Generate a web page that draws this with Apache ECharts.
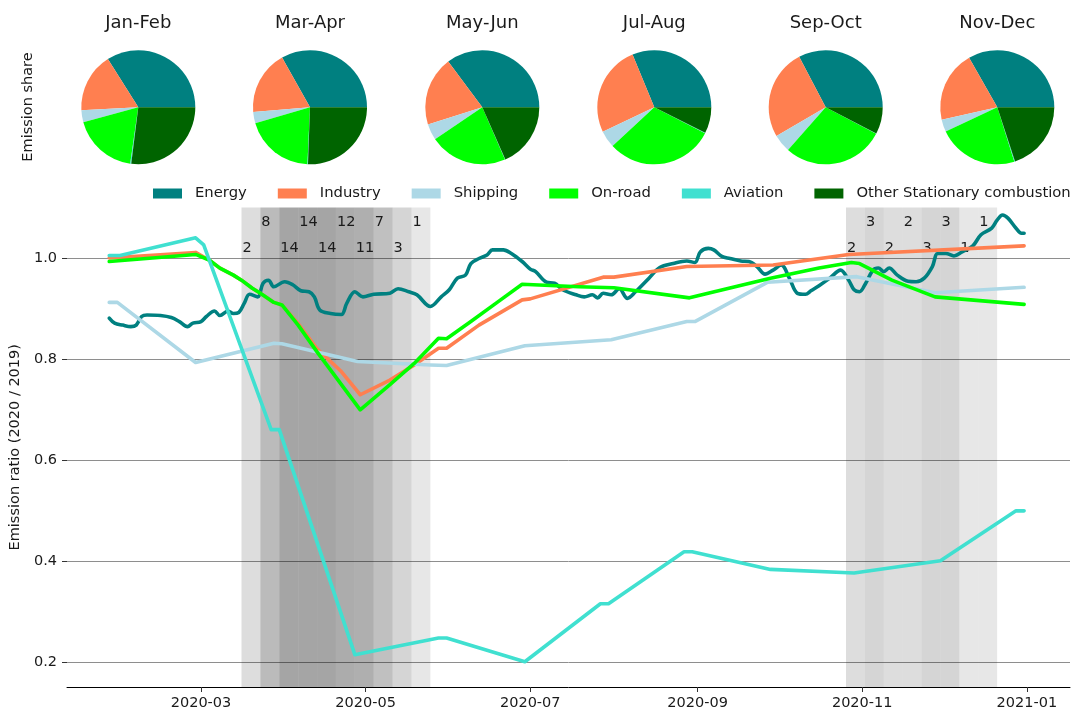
<!DOCTYPE html>
<html><head><meta charset="utf-8">
<script src="https://cdn.jsdelivr.net/npm/echarts@6/dist/echarts.min.js"></script>
<style>html,body{margin:0;padding:0;background:#fff}#c{width:1072px;height:711px}</style>
</head><body><div id="c"></div>
<script>
// ---------------- DATA ----------------
const sectors = ['Energy', 'Industry', 'Shipping', 'On-road', 'Aviation', 'Other Stationary combustion'];
const periods = ['Jan-Feb', 'Mar-Apr', 'May-Jun', 'Jul-Aug', 'Sep-Oct', 'Nov-Dec'];

// emission shares per period, in sector order
const shareJanFeb = [0.340, 0.169, 0.034, 0.185, 0.003, 0.270];
const shareMarApr = [0.332, 0.182, 0.032, 0.198, 0.0015, 0.256];
const shareMayJun = [0.3525, 0.197, 0.046, 0.221, 0.001, 0.184];
const shareJulAug = [0.3125, 0.258, 0.049, 0.306, 0.001, 0.074];
const shareSepOct = [0.327, 0.257, 0.051, 0.288, 0.001, 0.076];
const shareNovDec = [0.333, 0.203, 0.035, 0.229, 0.002, 0.200];

const energy = [
['2020-01-27',0.881],['2020-01-29',0.871],['2020-02-01',0.867],['2020-02-04',0.864],['2020-02-06',0.867],
['2020-02-08',0.884],['2020-02-10',0.887],['2020-02-15',0.886],['2020-02-19',0.882],['2020-02-22',0.874],
['2020-02-25',0.864],['2020-02-27',0.871],['2020-03-01',0.874],['2020-03-03',0.884],['2020-03-06',0.895],
['2020-03-08',0.886],['2020-03-11',0.895],['2020-03-13',0.890],['2020-03-15',0.892],['2020-03-17',0.910],
['2020-03-19',0.928],['2020-03-22',0.923],['2020-03-24',0.950],['2020-03-26',0.956],['2020-03-28',0.943],
['2020-04-01',0.953],['2020-04-04',0.947],['2020-04-07',0.935],['2020-04-10',0.933],['2020-04-12',0.923],
['2020-04-14',0.897],['2020-04-18',0.890],['2020-04-22',0.888],['2020-04-24',0.910],['2020-04-27',0.933],
['2020-04-30',0.923],['2020-05-04',0.928],['2020-05-10',0.930],['2020-05-13',0.939],['2020-05-17',0.933],
['2020-05-20',0.927],['2020-05-25',0.904],['2020-05-29',0.923],['2020-06-01',0.937],['2020-06-04',0.960],
['2020-06-07',0.966],['2020-06-09',0.989],['2020-06-12',0.999],['2020-06-15',1.006],['2020-06-17',1.016],
['2020-06-21',1.016],['2020-06-24',1.009],['2020-06-28',0.993],['2020-07-01',0.978],['2020-07-03',0.973],
['2020-07-07',0.952],['2020-07-10',0.950],['2020-07-13',0.937],['2020-07-18',0.927],['2020-07-21',0.923],
['2020-07-24',0.927],['2020-07-26',0.921],['2020-07-28',0.930],['2020-07-31',0.927],['2020-08-03',0.939],
['2020-08-06',0.920],['2020-08-09',0.933],['2020-08-14',0.960],['2020-08-18',0.981],['2020-08-23',0.989],
['2020-08-28',0.994],['2020-08-31',0.991],['2020-09-02',1.012],['2020-09-05',1.019],['2020-09-07',1.016],
['2020-09-10',1.003],['2020-09-13',0.999],['2020-09-17',0.994],['2020-09-20',0.993],['2020-09-23',0.983],
['2020-09-26',0.968],['2020-09-29',0.976],['2020-10-02',0.986],['2020-10-05',0.960],['2020-10-08',0.930],
['2020-10-11',0.928],['2020-10-13',0.935],['2020-10-16',0.945],['2020-10-20',0.960],['2020-10-24',0.976],
['2020-10-27',0.956],['2020-10-29',0.937],['2020-10-31',0.933],['2020-11-02',0.947],['2020-11-05',0.976],
['2020-11-07',0.980],['2020-11-09',0.973],['2020-11-11',0.980],['2020-11-14',0.966],['2020-11-18',0.954],
['2020-11-21',0.953],['2020-11-24',0.960],['2020-11-27',0.983],['2020-11-29',1.009],['2020-12-02',1.009],
['2020-12-05',1.004],['2020-12-08',1.012],['2020-12-12',1.024],['2020-12-15',1.046],['2020-12-19',1.059],
['2020-12-21',1.075],['2020-12-23',1.085],['2020-12-25',1.079],['2020-12-28',1.059],['2020-12-30',1.049],
['2020-12-31',1.049]];

const industry = [
['2020-01-27',1.000],['2020-02-28',1.011],['2020-03-04',0.996],['2020-03-08',0.980],['2020-03-13',0.966],
['2020-03-16',0.956],['2020-03-20',0.940],['2020-03-23',0.930],['2020-03-28',0.912],['2020-03-31',0.907],
['2020-04-06',0.870],['2020-04-13',0.820],['2020-04-22',0.775],['2020-04-29',0.729],['2020-05-10',0.758],
['2020-05-19',0.788],['2020-05-28',0.821],['2020-05-31',0.821],['2020-06-12',0.867],['2020-06-28',0.917],
['2020-07-01',0.919],['2020-07-28',0.962],['2020-08-01',0.962],['2020-08-28',0.983],['2020-09-29',0.986],
['2020-10-27',1.007],['2020-12-31',1.024]];

const shipping = [
['2020-01-27',0.912],['2020-01-30',0.912],['2020-02-28',0.793],['2020-03-28',0.831],['2020-03-31',0.830],
['2020-04-28',0.795],['2020-05-25',0.788],['2020-05-31',0.787],['2020-06-29',0.826],['2020-07-31',0.838],
['2020-08-28',0.874],['2020-08-31',0.874],['2020-09-27',0.952],['2020-10-30',0.963],['2020-11-28',0.931],
['2020-12-31',0.942]];

const onRoad = [
['2020-01-27',0.993],['2020-02-28',1.007],['2020-03-04',0.996],['2020-03-08',0.980],['2020-03-13',0.966],
['2020-03-16',0.956],['2020-03-20',0.940],['2020-03-23',0.930],['2020-03-28',0.912],['2020-03-31',0.907],
['2020-04-06',0.867],['2020-04-13',0.814],['2020-04-29',0.699],['2020-05-10',0.749],['2020-05-19',0.791],
['2020-05-28',0.841],['2020-05-31',0.840],['2020-06-09',0.874],['2020-06-19',0.913],['2020-06-28',0.948],
['2020-07-19',0.943],['2020-08-01',0.941],['2020-08-29',0.921],['2020-09-28',0.960],['2020-10-16',0.980],
['2020-10-28',0.991],['2020-10-31',0.989],['2020-11-12',0.956],['2020-11-28',0.923],['2020-12-31',0.908]];

const aviation = [
['2020-01-27',1.005],['2020-01-31',1.005],['2020-02-28',1.040],['2020-03-02',1.026],['2020-03-27',0.660],
['2020-03-30',0.660],['2020-04-27',0.214],['2020-05-28',0.247],['2020-05-31',0.247],['2020-06-29',0.200],
['2020-07-27',0.315],['2020-07-30',0.315],['2020-08-27',0.418],['2020-08-30',0.418],['2020-09-28',0.383],
['2020-10-29',0.376],['2020-11-30',0.400],['2020-12-28',0.499],['2020-12-31',0.499]];

// weekly lockdown counts (week start dates)
const wave1Starts = ['2020-03-16','2020-03-23','2020-03-30','2020-04-06','2020-04-13','2020-04-20','2020-04-27','2020-05-04','2020-05-11','2020-05-18'];
const wave1Counts = [2, 8, 14, 14, 14, 12, 11, 7, 3, 1];
const wave2Starts = ['2020-10-26','2020-11-02','2020-11-09','2020-11-16','2020-11-23','2020-11-30','2020-12-07','2020-12-14'];
const wave2Counts = [2, 3, 2, 2, 3, 3, 1, 1];

const xTickLabels = ['2020-03', '2020-05', '2020-07', '2020-09', '2020-11', '2021-01'];
const yTickValues = [0.2, 0.4, 0.6, 0.8, 1.0];

// ---------------- STYLE / LAYOUT ----------------
const FONT = 'DejaVu Sans';
const TXT = '#1a1a1a';
const colors = {
  'Energy': '#008080', 'Industry': '#ff7f50', 'Shipping': '#add8e6',
  'On-road': '#00ff00', 'Aviation': '#40e0d0', 'Other Stationary combustion': '#006400'
};
const DAY = 86400000;
const ts = s => Date.UTC(+s.slice(0, 4), +s.slice(5, 7) - 1, +s.slice(8, 10));
const xTickValues = xTickLabels.map(l => ts(l + '-01'));
const xMin = ts('2020-01-11') + 0.35 * DAY;
const xMax = ts('2021-01-17');

const pieShares = [shareJanFeb, shareMarApr, shareMayJun, shareJulAug, shareSepOct, shareNovDec];
const pieCentersX = [138.3, 310, 482.3, 654.3, 825.7, 997.3];
const pieCenterY = 107.3;
const pieRadius = 57;

function bandItems(starts, counts) {
  return starts.map((s, i) => {
    const t0 = ts(s);
    const topRow = i % 2 === 1;
    const a = (0.094 * Math.sqrt(counts[i])).toFixed(3);
    return [{
      xAxis: t0,
      name: String(counts[i]),
      itemStyle: { color: 'rgba(0,0,0,' + a + ')' },
      label: {
        show: true, position: [1, topRow ? 15 : 41], align: 'left', verticalAlign: 'middle',
        formatter: '{b}', fontSize: 14.5, fontFamily: FONT, color: TXT
      }
    }, { xAxis: t0 + 7 * DAY }];
  });
}

const lineSeriesData = { 'Energy': energy, 'Industry': industry, 'Shipping': shipping, 'On-road': onRoad, 'Aviation': aviation };

const series = [];
series.push({
  type: 'line', data: [], silent: true,
  markLine: {
    silent: true, symbol: 'none', z: 0, animation: false,
    label: { show: false },
    lineStyle: { color: '#8e8e8e', width: 1, type: 'solid' },
    data: yTickValues.map(v => ({ yAxis: v }))
  }
});
series.push({
  type: 'line', data: [], silent: true,
  markArea: {
    silent: true, z: 1, animation: false,
    data: bandItems(wave1Starts, wave1Counts).concat(bandItems(wave2Starts, wave2Counts))
  }
});
Object.keys(lineSeriesData).forEach(name => {
  series.push({
    type: 'line', name: name, z: 3,
    data: lineSeriesData[name].map(p => [ts(p[0]), p[1]]),
    showSymbol: false, symbol: 'none',
    smooth: name === 'Energy' ? 0.35 : false,
    lineStyle: { color: colors[name], width: 3.6, cap: 'round', join: 'round' },
    itemStyle: { color: colors[name] },
    emphasis: { disabled: true }
  });
});
pieShares.forEach((shares, k) => {
  series.push({
    type: 'pie', center: [pieCentersX[k], pieCenterY], radius: pieRadius,
    startAngle: 0, clockwise: false, silent: true, avoidLabelOverlap: false,
    label: { show: false }, labelLine: { show: false },
    itemStyle: { borderWidth: 0 },
    emphasis: { disabled: true },
    data: sectors.map((n, i) => ({ name: n, value: shares[i], itemStyle: { color: colors[n] } }))
  });
});

const graphics = periods.map((p, k) => ({
  type: 'text', x: pieCentersX[k], y: 23, silent: true,
  style: { text: p, fontSize: 18, fontFamily: FONT, fill: TXT, align: 'center', verticalAlign: 'middle' }
}));
graphics.push({
  type: 'text', x: 28, y: 107, rotation: Math.PI / 2, silent: true,
  style: { text: 'Emission share', fontSize: 14.5, fontFamily: FONT, fill: TXT, align: 'center', verticalAlign: 'middle' }
});

const option = {
  animation: false,
  backgroundColor: '#fff',
  textStyle: { fontFamily: FONT },
  grid: { left: 67, right: 2, top: 207.5, bottom: 24, containLabel: false },
  legend: {
    top: 181, left: 153, padding: [5, 0, 5, 0], itemWidth: 29, itemHeight: 10, itemGap: 31, icon: 'rect',
    selectedMode: false,
    textStyle: { fontFamily: FONT, fontSize: 14.8, color: TXT, padding: [0, 0, 0, 8] },
    data: sectors.map(n => ({ name: n, itemStyle: { color: colors[n] } }))
  },
  xAxis: {
    type: 'value', min: xMin, max: xMax, scale: true,
    splitLine: { show: false },
    axisLine: { show: true, onZero: false, lineStyle: { color: '#000', width: 1 } },
    axisTick: { show: true, length: 5, customValues: xTickValues, lineStyle: { color: '#333' } },
    axisLabel: {
      customValues: xTickValues, margin: 9, fontSize: 14.5, fontFamily: FONT, color: TXT,
      formatter: v => { const i = xTickValues.indexOf(v); return i >= 0 ? xTickLabels[i] : ''; }
    }
  },
  yAxis: {
    type: 'value', min: 0.15, max: 1.1,
    splitLine: { show: false },
    axisLine: { show: false },
    axisTick: { show: true, length: 5, customValues: yTickValues, lineStyle: { color: '#333' } },
    axisLabel: { customValues: yTickValues, margin: 10, fontSize: 14.5, fontFamily: FONT, color: TXT, formatter: v => v.toFixed(1) },
    name: 'Emission ratio (2020 / 2019)', nameLocation: 'middle', nameGap: 34,
    nameTextStyle: { fontSize: 14.5, fontFamily: FONT, color: TXT }
  },
  graphic: graphics,
  series: series
};

const chart = echarts.init(document.getElementById('c'), null, { renderer: 'canvas' });
chart.setOption(option);
</script>
</body></html>
